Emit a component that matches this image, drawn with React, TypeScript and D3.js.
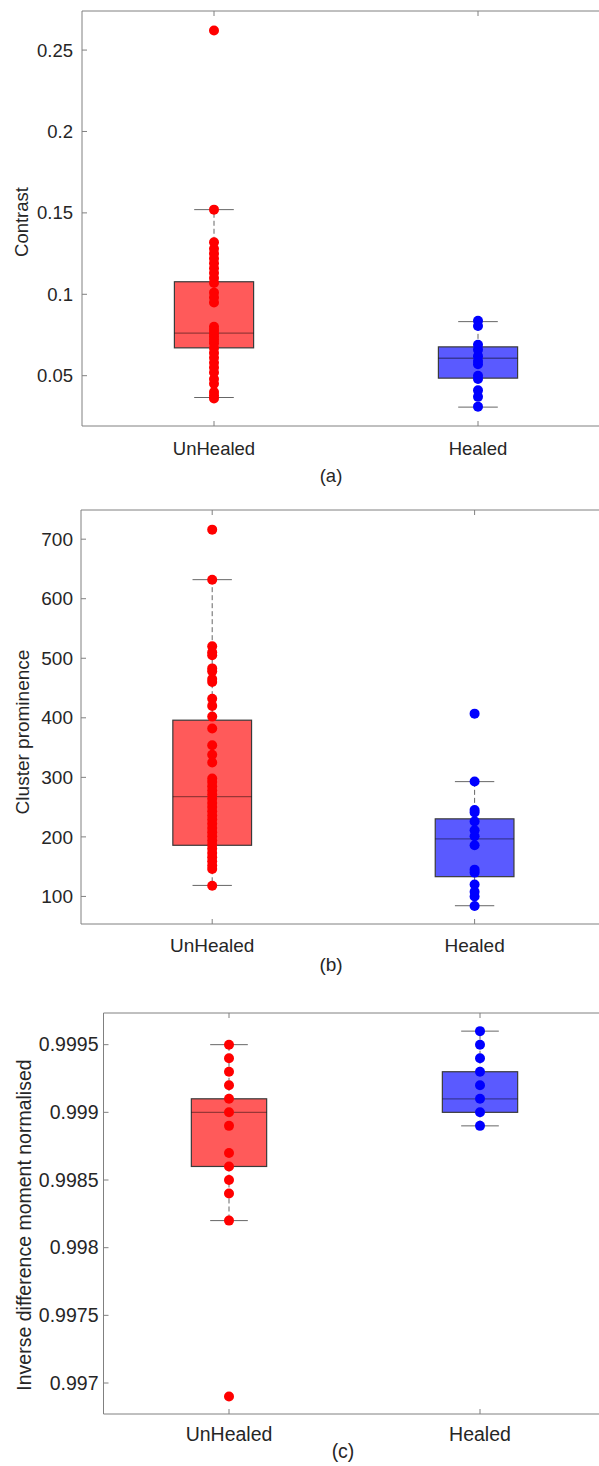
import React from "react";
import * as d3 from "d3";

// ---------- data ----------
const categories = ["UnHealed", "Healed"];

// Panel (a) Contrast
const contrastUnhealed = [0.262, 0.152, 0.132, 0.128, 0.125, 0.122, 0.119, 0.116, 0.113, 0.110, 0.107, 0.101, 0.098, 0.095, 0.080, 0.078, 0.076, 0.074, 0.072, 0.070, 0.067, 0.064, 0.061, 0.058, 0.055, 0.052, 0.048, 0.045, 0.040, 0.038, 0.036];
const contrastHealed = [0.0837, 0.0805, 0.069, 0.066, 0.062, 0.059, 0.057, 0.050, 0.048, 0.041, 0.037, 0.031];
// box stats: [whiskerLow, q1, median, q3, whiskerHigh]
const contrastStatsUnhealed = [0.0366, 0.0671, 0.0761, 0.1077, 0.152];
const contrastStatsHealed = [0.0307, 0.0485, 0.0607, 0.0677, 0.0832];
const contrastTicks = [0.05, 0.1, 0.15, 0.2, 0.25];
const contrastTickLabels = ["0.05", "0.1", "0.15", "0.2", "0.25"];
const contrastDomain = [0.0191, 0.274];

// Panel (b) Cluster prominence
const clusterUnhealed = [716, 632, 520, 510, 505, 483, 478, 465, 460, 432, 420, 402, 382, 354, 338, 325, 298, 292, 285, 278, 271, 264, 257, 250, 243, 236, 229, 222, 215, 208, 201, 194, 187, 180, 173, 166, 159, 152, 146, 118];
const clusterHealed = [407, 293, 245, 241, 226, 211, 201, 186, 145, 140, 120, 108, 100, 84];
const clusterStatsUnhealed = [118.5, 185.9, 267.6, 396, 632];
const clusterStatsHealed = [84.4, 133.2, 196.6, 230.3, 292.8];
const clusterTicks = [100, 200, 300, 400, 500, 600, 700];
const clusterTickLabels = ["100", "200", "300", "400", "500", "600", "700"];
const clusterDomain = [53.7, 749];

// Panel (c) Inverse difference moment normalised
const idmnUnhealed = [0.9995, 0.9994, 0.9993, 0.9992, 0.9991, 0.999, 0.9989, 0.9987, 0.9986, 0.9985, 0.9984, 0.9982, 0.9969];
const idmnHealed = [0.9996, 0.9995, 0.9994, 0.9993, 0.9992, 0.9991, 0.999, 0.9989];
const idmnStatsUnhealed = [0.9982, 0.9986, 0.999, 0.9991, 0.9995];
const idmnStatsHealed = [0.9989, 0.999, 0.9991, 0.9993, 0.9996];
const idmnTicks = [0.997, 0.9975, 0.998, 0.9985, 0.999, 0.9995];
const idmnTickLabels = ["0.997", "0.9975", "0.998", "0.9985", "0.999", "0.9995"];
const idmnDomain = [0.996771, 0.999734];

const FONT = "'Liberation Sans', Arial, Helvetica, sans-serif";
const TEXT = "#262626";
const AXIS = "#808080";
const dotColors = ["#ff0000", "#0000ff"];
const boxFills = ["#ff5a5a", "#5a5aff"];

type PanelProps = {
  left: number;
  top: number;
  bottom: number;
  unitPx: number;
  domain: number[];
  ticks: number[];
  tickLabels: string[];
  points: number[][];
  stats: number[][];
  ylabel: string;
  ylabelX: number;
  ylabelY: number;
  fontSize: number;
  xLabelY: number;
  tag: string;
  tagX: number;
  tagY: number;
  tickGap: number;
};

function Panel(p: PanelProps) {
  const x = d3.scaleLinear().domain([0.5, 2.5]).range([p.left, p.left + 2 * p.unitPx]);
  const y = d3.scaleLinear().domain(p.domain).range([p.bottom, p.top]);
  const boxHalf = (x(1.15) - x(1));
  const capHalf = (x(1.075) - x(1));
  const right = x(2.5);
  return (
    <g>
      <line x1={p.left} x2={right} y1={p.top} y2={p.top} stroke={AXIS} strokeWidth={1} />
      <line x1={p.left} x2={right} y1={p.bottom} y2={p.bottom} stroke={AXIS} strokeWidth={1} />
      <line x1={p.left} x2={p.left} y1={p.top} y2={p.bottom} stroke={AXIS} strokeWidth={1} />
      {p.ticks.map((t, i) => (
        <g key={"yt" + i}>
          <line x1={p.left} x2={p.left + 5} y1={y(t)} y2={y(t)} stroke={AXIS} />
          <text x={p.left - p.tickGap} y={y(t)} dy="0.35em" textAnchor="end" fontSize={p.fontSize} fill={TEXT} fontFamily={FONT}>
            {p.tickLabels[i]}
          </text>
        </g>
      ))}
      {categories.map((c, i) => (
        <g key={"xt" + i}>
          <line x1={x(i + 1)} x2={x(i + 1)} y1={p.bottom} y2={p.bottom - 5} stroke={AXIS} />
          <line x1={x(i + 1)} x2={x(i + 1)} y1={p.top} y2={p.top + 5} stroke={AXIS} />
          <text x={x(i + 1)} y={p.xLabelY} textAnchor="middle" fontSize={p.fontSize} fill={TEXT} fontFamily={FONT}>
            {c}
          </text>
        </g>
      ))}
      {p.stats.map((s, i) => {
        const cx = x(i + 1);
        const [wl, q1, med, q3, wh] = s;
        return (
          <g key={"bx" + i}>
            <line x1={cx} x2={cx} y1={y(q3)} y2={y(wh)} stroke="#666" strokeDasharray="5,3" />
            <line x1={cx} x2={cx} y1={y(q1)} y2={y(wl)} stroke="#666" strokeDasharray="5,3" />
            <line x1={cx - capHalf} x2={cx + capHalf} y1={y(wh)} y2={y(wh)} stroke="#666" />
            <line x1={cx - capHalf} x2={cx + capHalf} y1={y(wl)} y2={y(wl)} stroke="#666" />
            <rect x={cx - boxHalf} y={y(q3)} width={2 * boxHalf} height={y(q1) - y(q3)} fill={boxFills[i]} stroke="#3a3a3a" strokeWidth={1.2} />
            <line x1={cx - boxHalf} x2={cx + boxHalf} y1={y(med)} y2={y(med)} stroke="#000" strokeOpacity={0.4} strokeWidth={1.3} />
          </g>
        );
      })}
      {p.points.map((arr, i) =>
        arr.map((v, j) => <circle key={"pt" + i + "-" + j} cx={x(i + 1)} cy={y(v)} r={5} fill={dotColors[i]} />)
      )}
      <text transform={`translate(${p.ylabelX},${p.ylabelY}) rotate(-90)`} textAnchor="middle" fontSize={p.fontSize} fill={TEXT} fontFamily={FONT}>
        {p.ylabel}
      </text>
      <text x={p.tagX} y={p.tagY} textAnchor="middle" fontSize={p.fontSize} fill={TEXT} fontFamily={FONT}>
        {p.tag}
      </text>
    </g>
  );
}

export default function App() {
  return (
    <svg width={599} height={1466} style={{ position: "absolute", left: 0, top: 0, background: "#fff" }}>
      <rect x={0} y={0} width={599} height={1466} fill="#fff" />
      <Panel
        left={82} top={11} bottom={426} unitPx={264}
        domain={contrastDomain} ticks={contrastTicks} tickLabels={contrastTickLabels}
        points={[contrastUnhealed, contrastHealed]} stats={[contrastStatsUnhealed, contrastStatsHealed]}
        ylabel="Contrast" ylabelX={28} ylabelY={222} fontSize={18.5} xLabelY={455}
        tag="(a)" tagX={331} tagY={482} tickGap={9}
      />
      <Panel
        left={81} top={510} bottom={924} unitPx={262.4}
        domain={clusterDomain} ticks={clusterTicks} tickLabels={clusterTickLabels}
        points={[clusterUnhealed, clusterHealed]} stats={[clusterStatsUnhealed, clusterStatsHealed]}
        ylabel="Cluster prominence" ylabelX={29} ylabelY={732} fontSize={19} xLabelY={952}
        tag="(b)" tagX={331} tagY={971} tickGap={8}
      />
      <Panel
        left={103.5} top={1013} bottom={1414} unitPx={251}
        domain={idmnDomain} ticks={idmnTicks} tickLabels={idmnTickLabels}
        points={[idmnUnhealed, idmnHealed]} stats={[idmnStatsUnhealed, idmnStatsHealed]}
        ylabel="Inverse difference moment normalised" ylabelX={31} ylabelY={1225} fontSize={19.5} xLabelY={1441}
        tag="(c)" tagX={343} tagY={1458} tickGap={5}
      />
    </svg>
  );
}
